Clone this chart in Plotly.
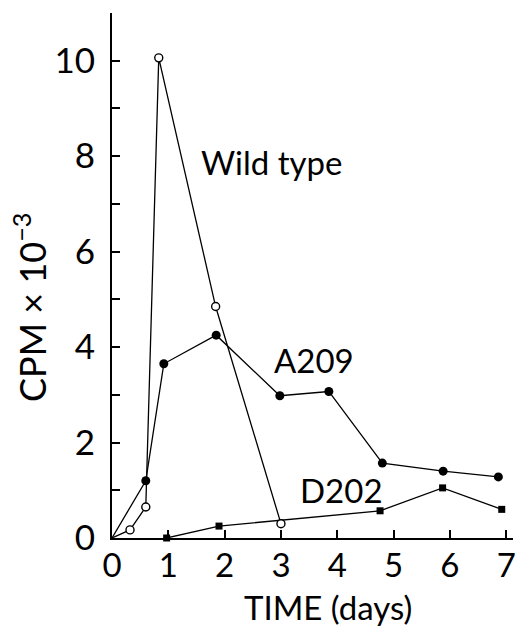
import plotly.graph_objects as go

# Data
wild_x = [0, 0.32, 0.6, 0.83, 1.84, 3.0]
wild_y = [0, 0.17, 0.65, 10.06, 4.85, 0.3]

a209_x = [0, 0.6, 0.92, 1.85, 2.98, 3.85, 4.8, 5.88, 6.86]
a209_y = [0, 1.2, 3.65, 4.25, 2.98, 3.07, 1.57, 1.4, 1.28]

d202_x = [0.97, 1.9, 4.76, 5.87, 6.92]
d202_y = [0.0, 0.25, 0.57, 1.05, 0.6]

labels = ["Wild type", "A209", "D202"]
label_x = [2.84, 3.58, 4.07]
label_y = [7.88, 3.74, 1.0]

FONT = "Lato"
LW = 1.3
fig = go.Figure()

# A209: line from the origin, filled circles (no marker at origin)
fig.add_trace(go.Scatter(x=a209_x, y=a209_y, mode="lines",
                         line=dict(color="black", width=LW),
                         showlegend=False, cliponaxis=False))
fig.add_trace(go.Scatter(x=a209_x[1:], y=a209_y[1:], mode="markers",
                         marker=dict(symbol="circle", size=9, color="black",
                                     line=dict(width=0)),
                         showlegend=False, cliponaxis=False))

# D202: filled squares
fig.add_trace(go.Scatter(x=d202_x, y=d202_y, mode="lines+markers",
                         line=dict(color="black", width=LW),
                         marker=dict(symbol="square", size=7, color="black",
                                     line=dict(width=0)),
                         showlegend=False, cliponaxis=False))

# Wild type: open circles
fig.add_trace(go.Scatter(x=wild_x, y=wild_y, mode="lines",
                         line=dict(color="black", width=LW),
                         showlegend=False, cliponaxis=False))
fig.add_trace(go.Scatter(x=wild_x[1:], y=wild_y[1:], mode="markers",
                         marker=dict(symbol="circle", size=8, color="white",
                                     line=dict(color="black", width=1.4)),
                         showlegend=False, cliponaxis=False))

for t, lx, ly in zip(labels, label_x, label_y):
    fig.add_annotation(x=lx, y=ly, text=t, showarrow=False,
                       font=dict(family=FONT, size=33, color="black"))

# rotated y-axis title
fig.add_annotation(xref="paper", yref="y", x=0, y=4.82, xanchor="center",
                   yanchor="middle", xshift=-82, textangle=-90,
                   text="CPM × 10<sup>−3</sup>", showarrow=False,
                   font=dict(family=FONT, size=36, color="black"))

# x-axis title
fig.add_annotation(xref="paper", yref="paper", x=0.538, y=0, xanchor="center",
                   yanchor="middle", yshift=-69, text="TIME (days)",
                   showarrow=False,
                   font=dict(family=FONT, size=33, color="black"))

fig.update_layout(
    width=521, height=628,
    margin=dict(l=112, r=8, t=13, b=90),
    paper_bgcolor="white", plot_bgcolor="white",
    font=dict(family=FONT, color="black"),
    xaxis=dict(range=[0, 7.12], tick0=0, dtick=1, automargin=False,
               ticks="inside", ticklen=8, tickwidth=1.5, tickcolor="black",
               showline=True, linecolor="black", linewidth=2,
               showgrid=False, zeroline=False, ticklabelstandoff=-3,
               tickfont=dict(family=FONT, size=33)),
    yaxis=dict(range=[0, 11], tick0=0, dtick=2, automargin=False,
               ticks="inside", ticklen=8, tickwidth=1.5, tickcolor="black",
               minor=dict(dtick=1, tick0=0, ticks="inside", ticklen=8,
                          tickwidth=1.5, tickcolor="black", showgrid=False),
               showline=True, linecolor="black", linewidth=2,
               showgrid=False, zeroline=False, ticklabelstandoff=8,
               tickfont=dict(family=FONT, size=35)),
)

fig.write_html("out.html")
